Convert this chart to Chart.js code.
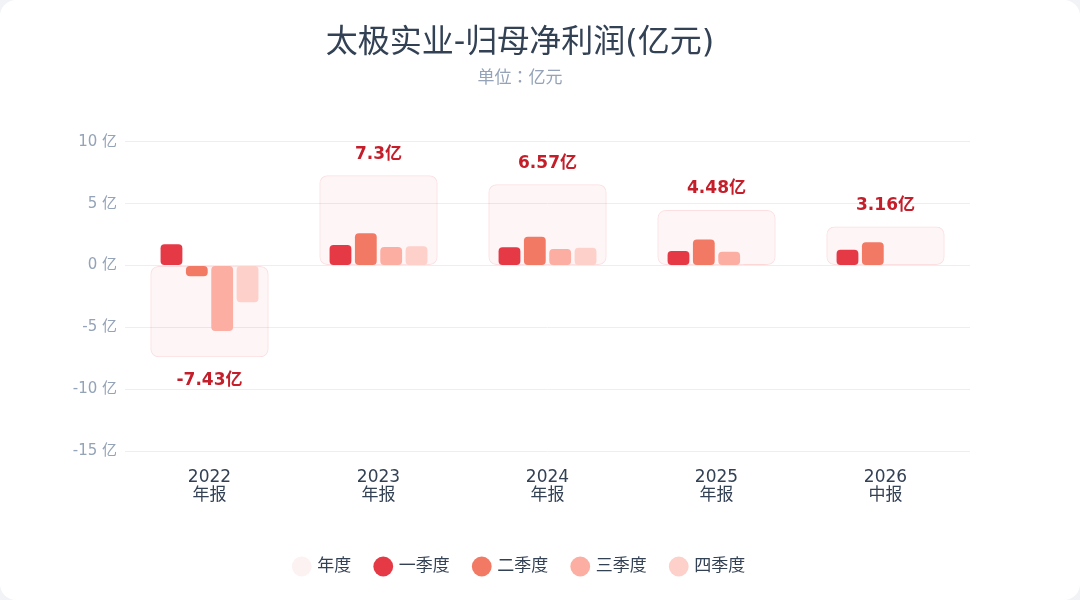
<!DOCTYPE html>
<html>
<head>
<meta charset="utf-8">
<script src="https://cdn.jsdelivr.net/npm/chart.js@4.4.0/dist/chart.umd.min.js"></script>
<style>
html,body{margin:0;padding:0;background:#f1f3f6;}
#card{position:absolute;left:0;top:0;width:1080px;height:600px;background:#fff;border-radius:16px;overflow:hidden;}
canvas{display:block;}
</style>
</head>
<body>
<div id="card"><canvas id="c" width="1080" height="600"></canvas></div>
<script>
const categories = [['2022','年报'],['2023','年报'],['2024','年报'],['2025','年报'],['2026','中报']];
const annual = [-7.43, 7.3, 6.57, 4.48, 3.16];
const q1 = [1.72, 1.65, 1.47, 1.18, 1.28];
const q2 = [-0.88, 2.6, 2.32, 2.1, 1.88];
const q3 = [-5.3, 1.5, 1.34, 1.12, null];
const q4 = [-2.97, 1.55, 1.44, 0.08, null];
const yTicks = [-15, -10, -5, 0, 5, 10];

const FONT = "'DejaVu Sans','Noto Sans CJK JP',sans-serif";

const labelPlugin = {
  id: 'annualLabels',
  afterDatasetsDraw(chart) {
    const meta = chart.getDatasetMeta(0);
    const ctx = chart.ctx;
    ctx.save();
    ctx.font = "bold 17px " + FONT;
    ctx.fillStyle = '#c41e2a';
    ctx.textAlign = 'center';
    ctx.textBaseline = 'middle';
    meta.data.forEach((el, i) => {
      const v = annual[i];
      const y = v >= 0 ? el.y - 21 : el.y + 23;
      ctx.fillText(v + '亿', el.x, y);
    });
    ctx.restore();
  }
};

const qCommon = {
  borderRadius: 4,
  borderSkipped: false,
  barPercentage: 0.86,
  categoryPercentage: 0.6
};

new Chart(document.getElementById('c'), {
  type: 'bar',
  data: {
    labels: categories,
    datasets: [
      { label: '年度', data: annual, grouped: false, backgroundColor: 'rgba(230,57,70,0.05)', borderColor: 'rgba(230,57,70,0.16)', borderWidth: 1, borderRadius: 8, borderSkipped: false, barPercentage: 0.7, categoryPercentage: 1, order: 2 },
      Object.assign({ label: '一季度', data: q1, backgroundColor: '#e63946', order: 1 }, qCommon),
      Object.assign({ label: '二季度', data: q2, backgroundColor: '#f27a65', order: 1 }, qCommon),
      Object.assign({ label: '三季度', data: q3, backgroundColor: '#fcaea2', order: 1 }, qCommon),
      Object.assign({ label: '四季度', data: q4, backgroundColor: '#fdd0c9', order: 1 }, qCommon)
    ]
  },
  options: {
    responsive: false,
    animation: false,
    layout: { padding: { left: 0, right: 40, top: 0, bottom: 15 } },
    plugins: {
      title: { display: true, text: '太极实业-归母净利润(亿元)', color: '#334155', font: { family: FONT, size: 32, weight: 'normal' }, padding: { top: 24, bottom: 6 } },
      subtitle: { display: true, text: '单位：亿元', color: '#94a3b8', font: { family: FONT, size: 17 }, padding: { bottom: 53 } },
      legend: {
        position: 'bottom',
        labels: {
          usePointStyle: true, pointStyle: 'circle', boxWidth: 14, boxHeight: 14,
          color: '#334155', font: { family: FONT, size: 17 }, padding: 25,
          generateLabels(chart) {
            return chart.data.datasets.map((d, i) => ({
              text: d.label,
              fillStyle: i === 0 ? '#fcf2f2' : d.backgroundColor,
              strokeStyle: i === 0 ? '#fcf2f2' : d.backgroundColor,
              lineWidth: 0, pointStyle: 'circle', datasetIndex: i, fontColor: '#334155'
            }));
          }
        }
      },
      tooltip: { enabled: false }
    },
    scales: {
      x: {
        grid: { display: false },
        border: { display: false },
        afterFit(axis) { axis.height = 82; },
        ticks: { color: '#334155', font: { family: FONT, size: 17, lineHeight: 1.05 }, padding: 10 }
      },
      y: {
        min: -15, max: 10,
        afterBuildTicks(axis) { axis.ticks = yTicks.map(v => ({ value: v })); },
        afterFit(axis) { axis.width = 125; },
        grid: { color: '#eceef2', drawTicks: false },
        border: { display: false },
        ticks: { color: '#94a3b8', font: { family: FONT, size: 15 }, padding: 8, callback: v => v + ' 亿' }
      },
      yr: {
        position: 'right',
        min: -15, max: 10,
        grid: { display: false, drawTicks: false },
        border: { display: false },
        ticks: { display: false },
        afterFit(axis) { axis.width = 70; }
      }
    }
  },
  plugins: [labelPlugin]
});
</script>
</body>
</html>
